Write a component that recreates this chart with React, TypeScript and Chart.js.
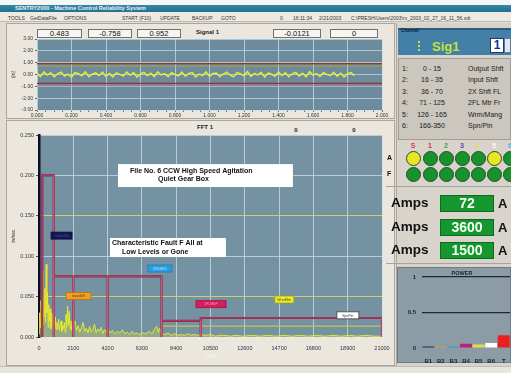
import React, { useEffect, useRef } from 'react';
import { Chart, registerables } from 'chart.js';

Chart.register(...registerables);

const FONT = '"Liberation Sans", Arial, sans-serif';
Chart.defaults.font.family = FONT;

// ---------------- data ----------------
const signalStep = 0.02;
const signalValues = [
  0.12, -0.18, 0.22, -0.05, 0.15, -0.21, 0.08, 0.19, -0.14, 0.03, -0.22, 0.17, 0.06, -0.11, 0.24, -0.19,
  0.02, 0.13, -0.08, 0.2, -0.16, 0.09, -0.2, 0.14, 0.01, -0.13, 0.21, -0.07, 0.16, -0.23, 0.05, 0.18,
  -0.1, 0.11, -0.17, 0.23, -0.04, 0.07, -0.19, 0.15, 0.0, -0.12, 0.2, -0.15, 0.1, 0.17, -0.21, 0.04,
  -0.09, 0.22, -0.14, 0.08, 0.13, -0.18, 0.03, 0.19, -0.06, -0.2, 0.16, 0.05, -0.11, 0.25, -0.16, 0.09,
  -0.03, 0.18, -0.22, 0.12, 0.02, -0.15, 0.21, -0.08, 0.14, -0.19, 0.06, 0.17, -0.12, 0.1, -0.2, 0.23,
  -0.05, 0.08, -0.17, 0.15, 0.01, -0.1, 0.19, -0.14, 0.11, -0.21, 0.07, 0.16, -0.09,
];
const signalLimitValues = [0.92, 0.72, -0.75, -0.95];

const spectrumCpm = [
  0, 40, 80, 120, 160, 200, 240, 280, 320, 360, 400, 440, 480, 520, 560, 600, 640, 680, 720, 760, 800, 840, 880,
  920, 960, 1000, 1050, 1100, 1150, 1200, 1250, 1300, 1350, 1400, 1450, 1500, 1550, 1600, 1650, 1700, 1750, 1800,
  1850, 1900, 1950, 2000, 2050, 2100, 2200, 2300, 2400, 2500, 2600, 2700, 2800, 2900, 3000, 3100, 3200, 3300,
  3400, 3500, 3600, 3700, 3800, 3900, 4000, 4100, 4200, 4350, 4500, 4650, 4800, 4950, 5100, 5250, 5400, 5550,
  5700, 5850, 6000, 6150, 6300, 6450, 6600, 6750, 6900, 7050, 7200, 7300, 7400, 7500, 7700, 7900, 8100, 8300,
  8500, 8700, 8900, 9100, 9300, 9500, 9700, 9900, 10200, 10500, 10800, 11100, 11400, 11700, 12000, 12500,
  13000, 13500, 14000, 14500, 15000, 15500, 16000, 16500, 17000, 17500, 18000, 18500, 19000, 19500, 20000,
  20500, 21000,
];
const spectrumAmp = [
  0.004, 0.03, 0.012, 0.045, 0.02, 0.083, 0.015, 0.05, 0.025, 0.06, 0.018, 0.09, 0.03, 0.055, 0.012, 0.04, 0.02,
  0.035, 0.01, 0.03, 0.015, 0.028, 0.008, 0.02, 0.012, 0.025, 0.009, 0.018, 0.01, 0.022, 0.008, 0.015, 0.02,
  0.007, 0.014, 0.01, 0.018, 0.006, 0.028, 0.012, 0.038, 0.015, 0.032, 0.01, 0.02, 0.008, 0.015, 0.01, 0.02,
  0.008, 0.014, 0.006, 0.012, 0.018, 0.007, 0.011, 0.005, 0.013, 0.006, 0.009, 0.016, 0.005, 0.01, 0.007,
  0.012, 0.004, 0.009, 0.006, 0.011, 0.005, 0.008, 0.004, 0.007, 0.005, 0.009, 0.004, 0.006, 0.003, 0.007,
  0.004, 0.005, 0.003, 0.006, 0.004, 0.005, 0.007, 0.004, 0.009, 0.013, 0.006, 0.011, 0.004, 0.003, 0.005,
  0.002, 0.004, 0.002, 0.003, 0.002, 0.004, 0.002, 0.003, 0.002, 0.003, 0.002, 0.003, 0.001, 0.002, 0.002,
  0.001, 0.002, 0.001, 0.002, 0.001, 0.002, 0.001, 0.002, 0.001, 0.002, 0.001, 0.002, 0.001, 0.002, 0.001,
  0.002, 0.001, 0.002, 0.001, 0.001,
];

const bandNumbers = ['1:', '2:', '3:', '4:', '5:', '6:'];
const bandRanges = ['0 - 15', '16 - 35', '36 - 70', '71 - 125', '126 - 165', '166-350'];
const bandNames = ['Output Shft', 'Input Shft', '2X Shft FL', '2FL Mtr Fr', 'Wrm/Mang', 'Spn/Pin'];
const bandStartCpm = [200, 900, 2100, 4200, 7500, 9900];
const bandEndCpm = [900, 2100, 4200, 7500, 9900, 21000];
const bandAlarm = [0.2, 0.075, 0.075, 0.075, 0.02, 0.0235];
const bandAlert = [null, null, null, null, 0.0135, 0.0135];

const markerNames = ['OutputSh', 'InputShf', '2XShfFL', '2FLMtrF', 'WrmMsh', 'SpnPin'];
const markerCpm = [1380, 2420, 7400, 10530, 15020, 18910];
const markerAmp = [0.1255, 0.0508, 0.0848, 0.0406, 0.0464, 0.0268];

const note1Lines = ['File No. 6 CCW High Speed Agitation', 'Quiet Gear Box'];
const note1Cpm = [4835, 15545];
const note1Amp = [0.214, 0.1856];
const note2Lines = ['Characteristic Fault F All at', 'Low Levels or Gone'];
const note2Cpm = [4345, 11444];
const note2Amp = [0.1225, 0.099];

const readouts = ['0.483', '-0.758', '0.952', '-0.0121', '0'];
const ledLabels = ['S', '1', '2', '3', '4', '5', '6'];
const ledRowA = [1, 0, 0, 0, 0, 1, 0];
const ledRowF = [0, 0, 0, 0, 0, 0, 0];
const ampsValues = ['72', '3600', '1500'];
const powerLabels = ['B1', 'B2', 'B3', 'B4', 'B5', 'B6', 'T'];
const powerValues = [0.02, 0.02, 0.02, 0.06, 0.05, 0.07, 0.18];

// ---------------- styles ----------------
const limitColors = ['#8a3a26', '#c89a3a', '#8a3a26', '#c46a96'];
const markerStyles = [
  { w: 21, bg: '#141850', fg: '#3a4a9a', border: '#0a0c30' },
  { w: 25, bg: '#eca028', fg: '#6a4010', border: '#b87010' },
  { w: 24, bg: '#2c9ee0', fg: '#b0e4ff', border: '#1a7ab8' },
  { w: 30, bg: '#d41e5e', fg: '#ff9ab8', border: '#a01040' },
  { w: 19, bg: '#ecec2a', fg: '#505010', border: '#a0a020' },
  { w: 22, bg: '#ffffff', fg: '#303030', border: '#404040' },
];
const ledColors = ['#e03838', '#d83050', '#38a060', '#6040b0', '#e8e040', '#f8f8f8', '#40b8e8'];
const powerColors = ['#1c2a6a', '#e09a30', '#3a90d0', '#c02070', '#e0e040', '#ffffff', '#e82020'];

const plotBg = (color: string) => ({
  id: 'plotBg',
  beforeDraw(chart: any) {
    const { ctx, chartArea: a } = chart;
    ctx.save();
    ctx.fillStyle = color;
    ctx.fillRect(a.left, a.top, a.right - a.left, a.bottom - a.top);
    ctx.restore();
  },
});

const isMult = (v: number, s: number) => Math.abs(v / s - Math.round(v / s)) < 1e-6;

function SignalChart() {
  const ref = useRef<HTMLCanvasElement>(null);
  useEffect(() => {
    const limitSets = signalLimitValues.map((v, i) => ({
      data: [{ x: 0, y: v }, { x: 2, y: v }],
      borderColor: limitColors[i],
      borderWidth: 1.2,
      pointRadius: 0,
    }));
    const chart = new Chart(ref.current as HTMLCanvasElement, {
      type: 'line',
      data: {
        datasets: [
          {
            data: signalValues.map((y, i) => ({ x: i * signalStep, y })),
            borderColor: '#e8ee2c',
            borderWidth: 1.5,
            pointRadius: 0,
          },
          ...limitSets,
        ],
      },
      options: {
        responsive: false,
        animation: false,
        events: [],
        plugins: { legend: { display: false }, tooltip: { enabled: false } },
        layout: { padding: { top: 3, right: 13, left: 0, bottom: 0 } },
        scales: {
          x: {
            type: 'linear',
            min: 0,
            max: 2,
            ticks: {
              stepSize: 0.05,
              autoSkip: false,
              maxRotation: 0,
              font: { size: 5 },
              color: '#333',
              padding: 1,
              callback: (v: any) => (isMult(Number(v), 0.2) ? Number(v).toFixed(3) : ''),
            },
            grid: {
              color: (c: any) => (isMult(c.tick.value, 0.2) ? 'rgba(200,222,236,0.75)' : 'transparent'),
              tickColor: '#666',
              tickLength: 2,
            },
            border: { display: false },
            afterFit: (s: any) => {
              s.height = 12;
              s.paddingLeft = 0;
              s.paddingRight = 0;
            },
          },
          y: {
            min: -3,
            max: 3,
            ticks: { stepSize: 1, font: { size: 5 }, color: '#333', padding: 2, callback: (v: any) => Number(v).toFixed(2) },
            grid: { color: 'rgba(200,222,236,0.7)', tickColor: '#666', tickLength: 2 },
            border: { display: false },
            title: { display: true, text: '(in)', font: { size: 5 }, color: '#333', padding: { top: 3, bottom: 0 } },
            afterFit: (s: any) => {
              s.width = 29;
              s.paddingTop = 0;
              s.paddingBottom = 0;
            },
          },
        },
      },
      plugins: [plotBg('#6c8b9c')],
    } as any);
    return () => chart.destroy();
  }, []);
  return <canvas ref={ref} width={387} height={86} style={{ position: 'absolute', left: 8, top: 36, width: 387, height: 86 }} />;
}

const fftAnnotations = {
  id: 'fftAnn',
  afterDatasetsDraw(chart: any) {
    const { ctx, scales } = chart;
    const x = scales.x;
    const y = scales.y;
    ctx.save();
    markerCpm.forEach((c, i) => {
      const st = markerStyles[i];
      const cx = x.getPixelForValue(c);
      const cy = y.getPixelForValue(markerAmp[i]);
      ctx.fillStyle = st.bg;
      ctx.fillRect(cx - st.w / 2, cy - 3.5, st.w, 7);
      ctx.strokeStyle = st.border;
      ctx.lineWidth = 0.8;
      ctx.strokeRect(cx - st.w / 2, cy - 3.5, st.w, 7);
      ctx.fillStyle = st.fg;
      ctx.font = `3.5px ${FONT}`;
      ctx.textAlign = 'center';
      ctx.textBaseline = 'middle';
      ctx.fillText(markerNames[i], cx, cy + 0.3);
    });
    const notes = [
      { lines: note1Lines, cpm: note1Cpm, amp: note1Amp, dx: [12, 40], dy: [6.5, 14.5] },
      { lines: note2Lines, cpm: note2Cpm, amp: note2Amp, dx: [2, 12], dy: [5.5, 14.5] },
    ];
    notes.forEach((n) => {
      const l = x.getPixelForValue(n.cpm[0]);
      const r = x.getPixelForValue(n.cpm[1]);
      const t = y.getPixelForValue(n.amp[0]);
      const b = y.getPixelForValue(n.amp[1]);
      ctx.fillStyle = '#ffffff';
      ctx.fillRect(l, t, r - l, b - t);
      ctx.fillStyle = '#111';
      ctx.font = `bold 7px ${FONT}`;
      ctx.textAlign = 'left';
      ctx.textBaseline = 'middle';
      n.lines.forEach((ln, k) => ctx.fillText(ln, l + n.dx[k], t + n.dy[k]));
    });
    ctx.restore();
  },
};

function FftChart() {
  const ref = useRef<HTMLCanvasElement>(null);
  useEffect(() => {
    const bandPts: any[] = [];
    bandStartCpm.forEach((s, i) => {
      const e = bandEndCpm[i];
      bandPts.push({ x: s, y: 0 }, { x: s, y: bandAlarm[i] }, { x: e, y: bandAlarm[i] }, { x: e, y: 0 }, { x: e, y: null });
    });
    const alertPts: any[] = [];
    bandStartCpm.forEach((s, i) => {
      const a = bandAlert[i];
      if (a !== null) alertPts.push({ x: s, y: a }, { x: bandEndCpm[i], y: a });
    });
    const chart = new Chart(ref.current as HTMLCanvasElement, {
      type: 'line',
      data: {
        datasets: [
          { data: bandPts, borderColor: 'rgba(214,100,140,0.7)', borderWidth: 0.6, pointRadius: 0, spanGaps: false },
          { data: bandPts, borderColor: '#962448', borderWidth: 2.2, pointRadius: 0, spanGaps: false },
          { data: alertPts, borderColor: '#c8c450', borderWidth: 1.2, pointRadius: 0 },
          {
            data: spectrumCpm.map((c, i) => ({ x: c, y: spectrumAmp[i] })),
            borderColor: '#e4e830',
            borderWidth: 1,
            pointRadius: 0,
            fill: 'origin',
            backgroundColor: 'rgba(214,220,70,0.32)',
          },
        ],
      },
      options: {
        responsive: false,
        animation: false,
        events: [],
        plugins: { legend: { display: false }, tooltip: { enabled: false } },
        layout: { padding: { top: 3, right: 13, left: 0, bottom: 0 } },
        scales: {
          x: {
            type: 'linear',
            min: 0,
            max: 21000,
            ticks: {
              stepSize: 700,
              autoSkip: false,
              maxRotation: 0,
              font: { size: 5.5 },
              color: '#333',
              padding: 5,
              callback: (v: any) => (isMult(Number(v), 2100) ? String(v) : ''),
            },
            grid: {
              color: (c: any) => (isMult(c.tick.value, 2100) && c.tick.value > 0 ? 'rgba(205,222,234,0.75)' : 'transparent'),
              tickColor: 'rgba(240,240,240,0.9)',
              tickLength: 3,
            },
            border: { display: false },
            title: { display: true, text: 'CPM', font: { size: 5 }, color: '#f4f4f4', padding: 0 },
            afterFit: (s: any) => {
              s.height = 23;
              s.paddingLeft = 0;
              s.paddingRight = 0;
            },
          },
          y: {
            min: 0,
            max: 0.25,
            ticks: { stepSize: 0.05, font: { size: 5.5 }, color: '#333', padding: 2, callback: (v: any) => Number(v).toFixed(3) },
            grid: {
              color: (c: any) => {
                const v = Math.round(c.tick.value * 1000);
                if (v === 50 || v === 150) return 'rgba(214,214,110,0.9)';
                if (v === 0) return 'transparent';
                return 'rgba(205,222,234,0.75)';
              },
              tickColor: '#555',
              tickLength: 3,
            },
            border: { display: true, color: '#0c0c28', width: 2.5 },
            title: { display: true, text: 'in/sec', font: { size: 5 }, color: '#333', padding: { top: 3, bottom: 0 } },
            afterFit: (s: any) => {
              s.width = 31;
              s.paddingTop = 0;
              s.paddingBottom = 0;
            },
          },
        },
      },
      plugins: [plotBg('#7592a2'), fftAnnotations],
    } as any);
    return () => chart.destroy();
  }, []);
  return <canvas ref={ref} width={387} height={228} style={{ position: 'absolute', left: 8, top: 132, width: 387, height: 228 }} />;
}

function PowerChart() {
  const ref = useRef<HTMLCanvasElement>(null);
  useEffect(() => {
    const chart = new Chart(ref.current as HTMLCanvasElement, {
      type: 'bar',
      data: {
        labels: powerLabels,
        datasets: [{ data: powerValues, backgroundColor: powerColors, barPercentage: 0.95, categoryPercentage: 1 }],
      },
      options: {
        responsive: false,
        animation: false,
        events: [],
        plugins: { legend: { display: false }, tooltip: { enabled: false } },
        layout: { padding: { top: 1.5, right: 1, left: 0, bottom: 0 } },
        scales: {
          x: {
            ticks: { font: { size: 6, weight: 'bold' }, color: '#1a2030', padding: 2, maxRotation: 0, autoSkip: false },
            grid: { display: false },
            border: { display: false },
            afterFit: (s: any) => {
              s.height = 15;
              s.paddingLeft = 0;
              s.paddingRight = 0;
            },
          },
          y: {
            min: 0,
            max: 1.12,
            ticks: { stepSize: 0.5, includeBounds: false, font: { size: 6, weight: 'bold' }, color: '#1a2030', padding: 6, callback: (v: any) => String(v) },
            grid: { color: (c: any) => (c.tick.value > 0 ? '#1e2838' : 'transparent'), lineWidth: 1.2, drawTicks: false },
            border: { display: false },
            afterFit: (s: any) => {
              s.width = 25;
              s.paddingTop = 0;
              s.paddingBottom = 0;
            },
          },
        },
      },
    } as any);
    return () => chart.destroy();
  }, []);
  return <canvas ref={ref} width={114} height={96} style={{ position: 'absolute', left: 397, top: 267, width: 114, height: 96 }} />;
}

const abs = (l: number, t: number, w: number, h: number, extra: any = {}) => ({
  position: 'absolute' as const,
  left: l,
  top: t,
  width: w,
  height: h,
  boxSizing: 'border-box' as const,
  ...extra,
});

function Txt({ x, y, s, children, color = '#222', bold = false, center = false }: any) {
  return (
    <div
      style={{
        position: 'absolute',
        left: x,
        top: y - s * 0.6,
        fontSize: s,
        lineHeight: `${s * 1.2}px`,
        color,
        fontWeight: bold ? 'bold' : 'normal',
        whiteSpace: 'nowrap',
        transform: center ? 'translateX(-50%)' : undefined,
      }}
    >
      {children}
    </div>
  );
}

const menuItems: [string, number][] = [
  ['TOOLS', 8],
  ['GetDataFile', 30],
  ['OPTIONS', 64],
  ['START (F10)', 122],
  ['UPDATE', 160],
  ['BACKUP', 192],
  ['GOTO', 221],
  ['0', 280],
  ['16:11:34', 293],
  ['2/21/2003', 319],
  ['C:\\PRESH\\Users\\2003\\rv_2003_02_27_16_11_56.sdt', 351],
];
const readoutX: [number, number][] = [
  [37, 82],
  [88, 132],
  [137, 181],
  [273, 321],
  [330, 378],
];
const ledX = [413, 430, 446, 462, 478, 494, 510];

export default function App() {
  return (
    <div style={{ position: 'fixed', left: 0, top: 0, width: 511, height: 373, overflow: 'hidden', background: '#e2ded6', fontFamily: FONT }}>
      <div style={abs(0, 0, 511, 5, { background: '#f6f6f4' })} />
      <div style={abs(0, 5, 511, 7, { background: 'linear-gradient(#3488aa,#22708f)' })} />
      <Txt x={15} y={8.5} s={5.5} color="#e8f2f8" bold>
        SENTRY2000 - Machine Control Reliability System
      </Txt>
      <div style={abs(0, 12, 511, 10, { background: '#eeeae2', borderBottom: '1px solid #bdb9b1' })} />
      {menuItems.map(([t, x]) => (
        <Txt key={t} x={x} y={17.5} s={5} color="#333">
          {t}
        </Txt>
      ))}

      {/* signal panel */}
      <div style={abs(6, 23, 389, 96, { background: '#ebe7df', border: '1px solid #aaa69e' })} />
      {readoutX.map(([l, r], i) => (
        <div
          key={i}
          style={abs(l, 29, r - l, 9, {
            background: '#f6f5f0',
            border: '1px solid #707070',
            fontSize: 7.5,
            lineHeight: '7px',
            textAlign: 'center',
            color: '#111',
          })}
        >
          {readouts[i]}
        </div>
      ))}
      <Txt x={196} y={33} s={6} bold color="#222">
        Signal 1
      </Txt>
      <SignalChart />

      {/* FFT panel */}
      <div style={abs(6, 120, 389, 246, { background: '#ebe7df', border: '1px solid #aaa69e' })} />
      <Txt x={205} y={128} s={6} bold center color="#222">
        FFT 1
      </Txt>
      <Txt x={296} y={131} s={6} bold center color="#222">
        0
      </Txt>
      <Txt x={354} y={131} s={6} bold center color="#222">
        0
      </Txt>
      <FftChart />

      {/* right side */}
      <div style={abs(396, 23, 115, 343, { background: '#d8d4cc', borderLeft: '1px solid #aaa69e' })} />
      <div style={abs(398, 28, 113, 27, { background: '#437fa6', borderTop: '2px solid #2a5c80' })} />
      <Txt x={401} y={31} s={4.5} bold color="#0e2240">
        Channel
      </Txt>
      {[41, 45, 49].map((yy) => (
        <div key={yy} style={abs(418, yy, 2, 2, { background: '#c8e040' })} />
      ))}
      <Txt x={432} y={47} s={13} bold color="#c6e23c">
        Sig1
      </Txt>
      <div style={abs(490, 38, 14, 15, { background: '#ffffff', border: '1px solid #1a3a70', fontSize: 12, fontWeight: 'bold', color: '#1030a0', textAlign: 'center', lineHeight: '13px' })}>
        1
      </div>
      <div style={abs(504, 38, 7, 15, { background: '#dfe7f0', border: '1px solid #5a7aa0' })} />

      <div style={abs(398, 58, 113, 82, { background: '#cbc6be', border: '1px solid #a29e96' })} />
      {bandNumbers.map((n, i) => {
        const yy = 69 + i * 11.5;
        return (
          <React.Fragment key={n}>
            <Txt x={402} y={yy} s={7} color="#1a1a1a">
              {n}
            </Txt>
            <Txt x={432} y={yy} s={7} center color="#1a1a1a">
              {bandRanges[i]}
            </Txt>
            <Txt x={468} y={yy} s={7} color="#1a1a1a">
              {bandNames[i]}
            </Txt>
          </React.Fragment>
        );
      })}

      {ledLabels.map((l, i) => (
        <Txt key={l} x={ledX[i]} y={146} s={7} bold center color={ledColors[i]}>
          {l}
        </Txt>
      ))}
      <Txt x={387} y={158} s={7} bold color="#111">
        A
      </Txt>
      <Txt x={387} y={174} s={7} bold color="#111">
        F
      </Txt>
      {ledRowA.map((v, i) => (
        <div
          key={'a' + i}
          style={abs(ledX[i] - 7.5, 150.5, 15, 15, { borderRadius: '50%', background: v ? '#e6e624' : '#17932b', border: '1px solid #2a4a2a' })}
        />
      ))}
      {ledRowF.map((v, i) => (
        <div
          key={'f' + i}
          style={abs(ledX[i] - 7.5, 166.5, 15, 15, { borderRadius: '50%', background: v ? '#e6e624' : '#17932b', border: '1px solid #2a4a2a' })}
        />
      ))}
      <div style={abs(386, 186, 125, 1, { background: '#a8a49c' })} />
      {ampsValues.map((a, i) => {
        const top = [195, 219, 242][i];
        return (
          <React.Fragment key={a}>
            <Txt x={391} y={top + 8.5} s={13.5} bold color="#111">
              Amps
            </Txt>
            <div style={abs(440, top, 54, 17, { background: '#15962f', border: '1px solid #0e6a20', color: '#f4fff4', fontSize: 14, fontWeight: 'bold', textAlign: 'center', lineHeight: '15px' })}>
              {a}
            </div>
            <Txt x={498} y={top + 8.5} s={13} bold color="#111">
              A
            </Txt>
          </React.Fragment>
        );
      })}
      <div style={abs(386, 263, 125, 1, { background: '#a8a49c' })} />
      <div style={abs(397, 267, 114, 96, { background: '#8c9ca7', border: '1px solid #6e7c86' })} />
      <Txt x={462} y={273} s={5.5} bold center color="#1a2232">
        POWER
      </Txt>
      <PowerChart />
      <div style={abs(0, 366, 511, 7, { background: '#e8e5de', borderTop: '1px solid #c0bcb4' })} />
    </div>
  );
}
